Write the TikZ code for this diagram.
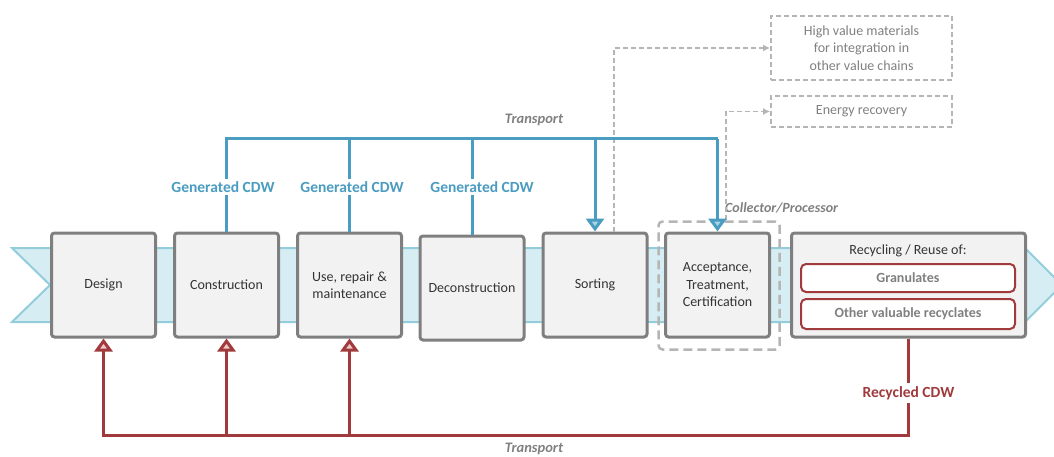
\documentclass[tikz,border=0pt]{standalone}
\usepackage{fontspec}
\setmainfont{Carlito}
\usepackage{xcolor}
\usetikzlibrary{calc,arrows.meta}
\definecolor{bandfill}{HTML}{D6EDF3}
\definecolor{bandline}{HTML}{93CDDC}
\definecolor{tipfill}{HTML}{A6D7E6}
\definecolor{boxfill}{HTML}{F2F2F2}
\definecolor{boxline}{HTML}{7F7F7F}
\definecolor{textdark}{HTML}{333333}
\definecolor{cdwblue}{HTML}{4A9CC0}
\definecolor{cdwred}{HTML}{A03A3C}
\definecolor{pinkfill}{HTML}{F0C8C8}
\definecolor{dashgray}{HTML}{B5B5B5}
\definecolor{labelgray}{HTML}{808080}

\begin{document}
\begin{tikzpicture}[x=1pt,y=-1pt,
	every node/.style={font=\fontsize{14}{17.5}\selectfont},
	stage/.style={draw=boxline,line width=3pt,fill=boxfill,rounded corners=3pt,minimum width=104pt,minimum height=104pt,align=center,text=textdark,inner sep=2pt},
	outbox/.style={draw=dashgray,dashed,dash pattern=on 5pt off 3pt,line width=1.8pt,minimum width=181pt,align=center,text=labelgray,inner sep=2pt},
	recbox/.style={draw=cdwred,line width=2pt,fill=white,rounded corners=5pt,minimum width=214pt,text=labelgray,font=\fontsize{14}{17}\selectfont\bfseries},
	blueline/.style={draw=cdwblue,line width=3pt},
	redline/.style={draw=cdwred,line width=3pt},
	bluetip/.style={-{Triangle[fill=tipfill,length=13pt,width=18pt]}},
	redtip/.style={-{Triangle[fill=pinkfill,length=13pt,width=18pt]}},
	dashline/.style={draw=dashgray,line width=1.8pt,dash pattern=on 5pt off 3pt,-{Latex[length=7pt,width=7pt]}},
	flowlabel/.style={fill=white,inner sep=3pt,font=\fontsize{15.5}{18}\selectfont\bfseries},
	transport/.style={text=labelgray,font=\fontsize{14.5}{17}\selectfont\bfseries\itshape}]
	\useasboundingbox (0,0) rectangle (1054,457);
	%the light blue band behind the stages
	\filldraw[fill=bandfill,draw=bandline,line width=2pt] (12,248) -- (1025,248) -- (1062,285) -- (1025,322) -- (12,322) -- (50,285) -- cycle;
	%%collector box drawn first so the stages sit on it
	\node[draw=dashgray,line width=2.5pt,dash pattern=on 9pt off 5pt,rounded corners=4pt,minimum width=121pt,minimum height=128pt] (coll) at (719,285.5){};
	\node[anchor=west,text=labelgray,font=\fontsize{14}{17}\selectfont\bfseries\itshape,inner sep=0pt] (collab) at (725,208){Collector/Processor};
	%% the stages placed by hand
	\node[stage] (design) at (103.5,285){Design};
	\node[stage] (construction) at (226.5,285){Construction};
	\node[stage] (use) at (349.5,285){Use, repair \&\\maintenance};
	\node[stage] (deconstruction) at (472,288){Deconstruction};
	\node[stage] (sorting) at (595,285){Sorting};
	\node[stage] (acceptance) at (717.5,285){Acceptance,\\Treatment,\\Certification};
	\node[stage,minimum width=234pt] (recycling) at (908.5,285){};
	\node[text=textdark] (reclab) at (908,251){Recycling / Reuse of:};
	\node[recbox,minimum height=28pt] (granulates) at (908,278){Granulates};
	\node[recbox,minimum height=30pt] (other) at (908,314){Other valuable recyclates};
	%% outputs at the top right
	\node[outbox,minimum height=64pt] (highvalue) at (861.5,48){High value materials\\for integration in\\other value chains};
	\node[outbox,minimum height=31pt] (energy) at (861.5,111.5){Energy recovery};
	\draw[dashline] ($(sorting.north)+(19,0)$) |- (highvalue.west);
	\draw[dashline] ($(coll.north)+(7,0)$) |- (energy.west);
	%% blue transport line and its drops
	\coordinate (bt) at (717.5,139);
	\draw[blueline] (construction.north) |- (bt);
	\foreach \s in {use,deconstruction}{
		\draw[blueline] (\s.north) -- (\s.north |- bt);
		}
	\draw[blueline,bluetip] (sorting.north |- bt) -- (sorting.north);
	\draw[blueline,bluetip] (bt) -- (acceptance.north);
	\foreach \lx/\n in {223/1,352/2,482/3}{
		\node[flowlabel,text=cdwblue] (gen\n) at (\lx,187){Generated CDW};
		}
	\node[transport] (toptr) at (534,120){Transport};
	%% red return line with arrows into the first three stages
	\coordinate (rb) at (908.5,435);
	\draw[redline,redtip] (recycling.south) -- (rb) -| (design.south);
	\foreach \s in {construction,use}{
		\draw[redline,redtip] (\s.south |- rb) -- (\s.south);
		}
	\node[flowlabel,text=cdwred] (recycled) at (908.5,393){Recycled CDW};
	\node[transport] (bottr) at (534,449){Transport};
\end{tikzpicture}
\end{document}
